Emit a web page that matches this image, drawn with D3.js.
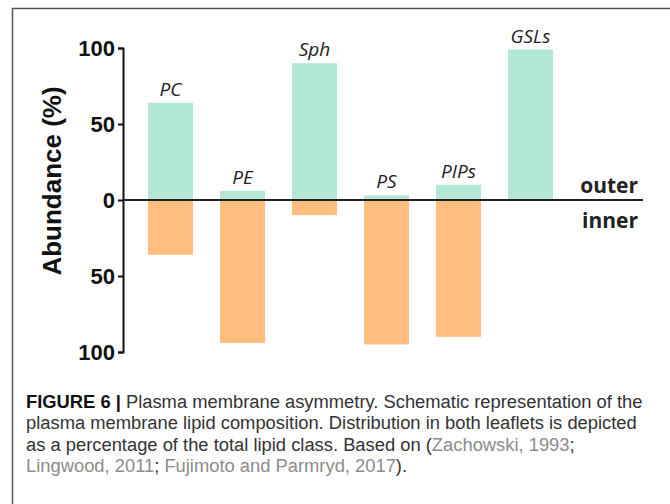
<!DOCTYPE html>
<html>
<head>
<meta charset="utf-8">
<script src="https://cdn.jsdelivr.net/npm/d3@7"></script>
<style>
  body { margin: 0; background: #fff; }
  svg { display: block; }
</style>
</head>
<body>
<div id="chart"></div>
<script>
// Lipid classes and their share in each leaflet (%)
var lipids = ['PC', 'PE', 'Sph', 'PS', 'PIPs', 'GSLs']
var outerLeaflet = [64, 6, 90, 3, 10, 99]
var innerLeaflet = [36, 94, 10, 95, 90, 0]
var yTicks = [100, 50, 0, -50, -100]

var captionLines = [
  [['FIGURE 6 | ', 'fig'], ['Plasma membrane asymmetry. Schematic representation of the', 'txt']],
  [['plasma membrane lipid composition. Distribution in both leaflets is depicted', 'txt']],
  [['as a percentage of the total lipid class. Based on (', 'txt'], ['Zachowski, 1993', 'ref'], [';', 'txt']],
  [['Lingwood, 2011', 'ref'], ['; ', 'txt'], ['Fujimoto and Parmryd, 2017', 'ref'], [').', 'txt']]
]

var width = 670
var height = 504
var green = '#b2e8d5'
var orange = '#fdbe7e'

var svg = d3.select('#chart').append('svg')
  .attr('width', width)
  .attr('height', height)

// frame lines (top + left only, the rest is cropped)
svg.append('path')
  .attr('d', 'M12.5,' + height + 'V8.5H' + width)
  .attr('fill', 'none')
  .attr('stroke', '#555')
  .attr('stroke-width', 1.5)

var x = d3.scaleBand()
  .domain(lipids)
  .range([134.5, 566.5])
  .paddingInner(0.375)
  .paddingOuter(0.1875)

var y = d3.scaleLinear()
  .domain([-100, 100])
  .range([352, 48])

var axisX = 123

// bars - outer leaflet goes up, inner goes down
svg.append('g').selectAll('rect')
  .data(lipids)
  .join('rect')
  .attr('x', d => x(d))
  .attr('width', x.bandwidth())
  .attr('y', (d, i) => y(outerLeaflet[i]))
  .attr('height', (d, i) => y(0) - y(outerLeaflet[i]))
  .attr('fill', green)

svg.append('g').selectAll('rect')
  .data(lipids)
  .join('rect')
  .attr('x', d => x(d))
  .attr('width', x.bandwidth())
  .attr('y', y(0))
  .attr('height', (d, i) => y(-innerLeaflet[i]) - y(0))
  .attr('fill', orange)

// lipid names above the outer bars
svg.append('g')
  .attr('font-family', '"Open Sans", sans-serif')
  .attr('font-style', 'italic')
  .attr('font-size', 19)
  .attr('fill', '#222')
  .attr('text-anchor', 'middle')
  .selectAll('text')
  .data(lipids)
  .join('text')
  .attr('x', d => x(d) + x.bandwidth() / 2)
  .attr('y', (d, i) => y(outerLeaflet[i]) - 7)
  .text(d => d)

// y axis
var yAxis = d3.axisLeft(y)
  .tickValues(yTicks)
  .tickSize(5)
  .tickPadding(3)
  .tickFormat(d => Math.abs(d))

var ax = svg.append('g')
  .attr('transform', 'translate(' + axisX + ',0)')
  .call(yAxis)
ax.select('.domain').attr('stroke', '#111').attr('stroke-width', 2)
ax.selectAll('.tick line').attr('stroke', '#111').attr('stroke-width', 2)
ax.selectAll('.tick text')
  .attr('font-family', '"Liberation Sans", Arial, sans-serif')
  .attr('font-weight', 'bold')
  .attr('font-size', 22)
  .attr('fill', '#111')

svg.append('text')
  .attr('transform', 'translate(61,181) rotate(-90)')
  .attr('text-anchor', 'middle')
  .attr('font-family', '"Liberation Sans", Arial, sans-serif')
  .attr('font-weight', 'bold')
  .attr('font-size', 26)
  .attr('fill', '#111')
  .text('Abundance (%)')

// membrane line at zero
svg.append('line')
  .attr('x1', axisX)
  .attr('x2', 643)
  .attr('y1', y(0))
  .attr('y2', y(0))
  .attr('stroke', '#222')
  .attr('stroke-width', 2)

svg.append('g')
  .attr('font-family', '"Open Sans", sans-serif')
  .attr('font-weight', 'bold')
  .attr('font-size', 21)
  .attr('fill', '#222')
  .attr('text-anchor', 'end')
  .selectAll('text')
  .data([['outer', y(0) - 7], ['inner', y(0) + 28]])
  .join('text')
  .attr('x', 638)
  .attr('y', d => d[1])
  .text(d => d[0])

// caption
var caption = svg.append('g')
  .attr('font-family', '"Liberation Sans", Arial, sans-serif')
  .attr('font-size', 16)

var captionText = caption.selectAll('text')
  .data(captionLines)
  .join('text')
  .attr('x', 26)
  .attr('y', (d, i) => 408 + i * 21.3)

captionText.selectAll('tspan')
  .data(d => d)
  .join('tspan')
  .attr('font-weight', d => d[1] === 'fig' ? 'bold' : 'normal')
  .attr('fill', d => d[1] === 'ref' ? '#8c8c8c' : (d[1] === 'fig' ? '#111' : '#333'))
  .text(d => d[0])

// the first caption line runs right up to x = 643 in the figure
var firstWidth = captionText.node().getComputedTextLength()
caption.attr('font-size', 16 * 617 / firstWidth)
</script>
</body>
</html>
